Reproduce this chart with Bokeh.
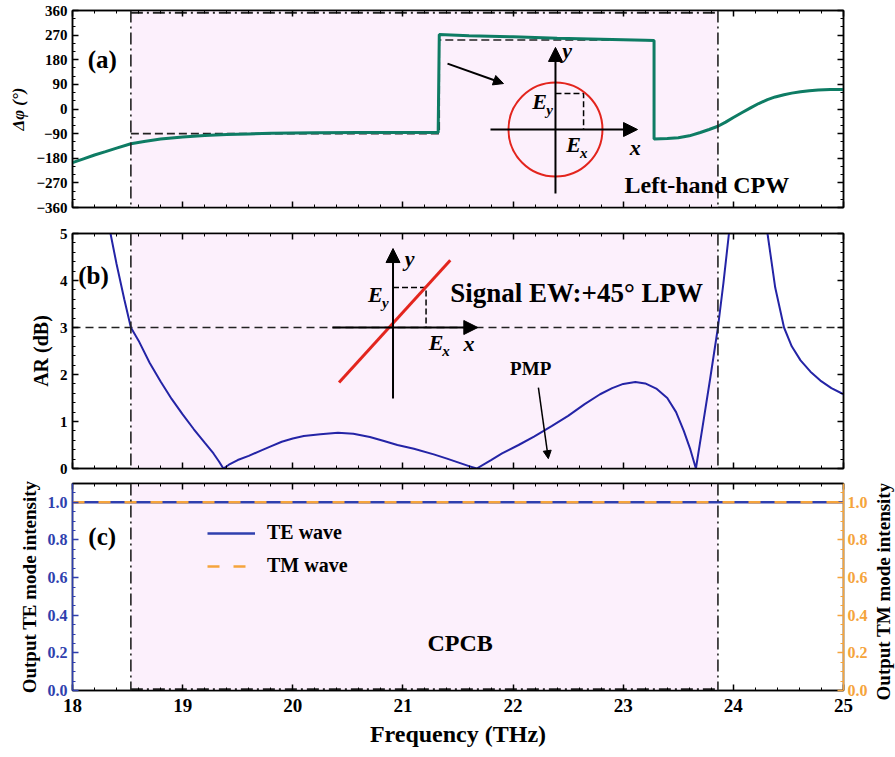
from bokeh.plotting import figure
from bokeh.layouts import column, row
from bokeh.models import (Range1d, LinearAxis, FixedTicker, BoxAnnotation, Span,
                          Arrow, NormalHead, Label, Legend, LegendItem,
                          CustomJSTickFormatter, PrintfTickFormatter)
from bokeh.embed import file_html
from bokeh.resources import INLINE

# ---------------- data ----------------
freq_ticks = [18, 19, 20, 21, 22, 23, 24, 25]
freq_minor = [18.2, 18.4, 18.6, 18.8, 19.2, 19.4, 19.6, 19.8, 20.2, 20.4, 20.6, 20.8,
              21.2, 21.4, 21.6, 21.8, 22.2, 22.4, 22.6, 22.8, 23.2, 23.4, 23.6, 23.8,
              24.2, 24.4, 24.6, 24.8]

phase_freq = [18.00, 18.10, 18.20, 18.30, 18.40, 18.53, 18.65, 18.80, 19.00, 19.20,
              19.40, 19.60, 19.80, 20.00, 20.20, 20.60, 21.00, 21.32, 21.33, 21.60,
              22.00, 22.40, 22.80, 23.20, 23.28, 23.28, 23.40, 23.50, 23.60, 23.70,
              23.78, 23.86, 23.93, 24.00, 24.08, 24.16, 24.23, 24.31, 24.38, 24.46,
              24.53, 24.61, 24.69, 24.77, 24.88, 25.00]
phase_deg = [-196, -182, -168, -156, -143, -127, -119, -110, -102, -97,
             -93, -91, -89, -88, -87, -86, -86, -86, 272, 268,
             264, 259, 255, 251, 250, -110, -108, -105, -98, -86,
             -75, -63, -48, -31, -13, 5, 20, 34, 44, 52,
             58, 63, 67, 69, 71, 71]
ideal_freq = [18.53, 21.33, 21.33, 23.28]
ideal_deg = [-90, -90, 252, 252]
phase_ticks = [-360, -270, -180, -90, 0, 90, 180, 270, 360]
phase_minor = [-330, -300, -240, -210, -150, -120, -60, -30, 30, 60, 120, 150, 210, 240, 300, 330]

ar_freq = [18.30, 18.345, 18.40, 18.47, 18.53, 18.60, 18.70, 18.80, 18.90, 19.00,
           19.10, 19.20, 19.28, 19.33, 19.37, 19.42, 19.50, 19.60, 19.71, 19.80,
           19.90, 20.00, 20.10, 20.25, 20.41, 20.55, 20.70, 20.82, 20.95, 21.10,
           21.28, 21.40, 21.50, 21.60, 21.67, 21.80, 21.90, 22.05, 22.19, 22.35,
           22.50, 22.65, 22.79, 22.90, 23.00, 23.11, 23.20, 23.30, 23.40, 23.48,
           23.55, 23.61, 23.66, 23.72, 23.79, 23.86, 23.91, 23.96, 24.02, 24.12,
           24.22, 24.31, 24.38, 24.46, 24.53, 24.61, 24.70, 24.79, 24.89, 25.00]
ar_db = [5.6, 5.0, 4.35, 3.6, 3.0, 2.72, 2.25, 1.85, 1.48, 1.15,
         0.84, 0.55, 0.32, 0.15, 0.0, 0.08, 0.18, 0.27, 0.38, 0.47,
         0.57, 0.64, 0.69, 0.73, 0.76, 0.74, 0.67, 0.59, 0.50, 0.42,
         0.30, 0.21, 0.13, 0.05, 0.0, 0.18, 0.32, 0.50, 0.68, 0.90,
         1.12, 1.37, 1.58, 1.71, 1.80, 1.84, 1.81, 1.70, 1.50, 1.20,
         0.80, 0.40, 0.0, 0.88, 1.92, 3.0, 3.95, 5.0, 6.2, 7.0,
         6.5, 5.0, 3.85, 3.0, 2.6, 2.3, 2.06, 1.87, 1.71, 1.58]
ar_ticks = [0, 1, 2, 3, 4, 5]
ar_minor = [0.2, 0.4, 0.6, 0.8, 1.2, 1.4, 1.6, 1.8, 2.2, 2.4, 2.6, 2.8,
            3.2, 3.4, 3.6, 3.8, 4.2, 4.4, 4.6, 4.8]
ar_threshold = [3, 3]

out_freq = [18, 19, 20, 21, 22, 23, 24, 25]
te_int = [1.0, 1.0, 1.0, 1.0, 1.0, 1.0, 1.0, 1.0]
tm_int = [1.0, 1.0, 1.0, 1.0, 1.0, 1.0, 1.0, 1.0]
int_ticks = [0.0, 0.2, 0.4, 0.6, 0.8, 1.0]
int_minor = [0.05, 0.1, 0.15, 0.25, 0.3, 0.35, 0.45, 0.5, 0.55, 0.65, 0.7, 0.75,
             0.85, 0.9, 0.95, 1.05]

band = [18.53, 23.86]

# ---------------- style ----------------
SERIF = "Liberation Serif"
TEAL = "#0e7c64"
BLUE = "#2424a6"
BLUE_C = "#2f3fae"
ORANGE = "#f5a43c"
RED = "#e3251e"
PINK = "#fcf0fc"
DK = "#222222"
DASHDOT = "12 4 2 4"

x_range = Range1d(18, 25)
FW = 771


def style_axis(ax, color="black", size="14px", title_size="18px", labels=True):
    ax.major_tick_in = 6
    ax.major_tick_out = 0
    ax.minor_tick_in = 3
    ax.minor_tick_out = 0
    ax.axis_line_width = 1.5
    ax.axis_line_color = color
    ax.major_tick_line_color = color
    ax.minor_tick_line_color = color
    ax.major_tick_line_width = 1.5
    ax.minor_tick_line_width = 1
    ax.major_label_text_font = SERIF
    ax.major_label_text_font_style = "bold"
    ax.major_label_text_font_size = size
    ax.major_label_text_color = color
    ax.axis_label_text_font = SERIF
    ax.axis_label_text_font_style = "bold"
    ax.axis_label_text_font_size = title_size
    ax.axis_label_text_color = "black"
    if not labels:
        ax.formatter = CustomJSTickFormatter(code="return ''")
        ax.major_label_standoff = 0
        ax.axis_label_standoff = 0


def make_fig(frame_h, y_range, top_b, bottom_b, right_b=52):
    p = figure(x_range=x_range, y_range=y_range, frame_width=FW, frame_height=frame_h,
               output_backend="svg", toolbar_location=None,
               min_border_left=72, min_border_right=right_b,
               min_border_top=top_b, min_border_bottom=bottom_b)
    p.xgrid.visible = False
    p.ygrid.visible = False
    p.outline_line_color = "black"
    p.outline_line_width = 1.5
    p.background_fill_color = "white"
    p.add_layout(BoxAnnotation(left=band[0], right=band[1], fill_color=PINK, fill_alpha=1,
                               line_alpha=0, level="underlay"))
    for b in band:
        p.add_layout(Span(location=b, dimension="height", line_color=DK,
                          line_width=1.6, line_dash=DASHDOT))
    p.xaxis.ticker = FixedTicker(ticks=freq_ticks, minor_ticks=freq_minor)
    return p


def mirror(p, side, ticks, minor):
    ax = LinearAxis(ticker=FixedTicker(ticks=ticks, minor_ticks=minor))
    style_axis(ax, labels=False)
    p.add_layout(ax, side)


def lab(p, x, y, text, size, style="bold", align="center", color="black", xo=0, yo=0, angle=0):
    p.add_layout(Label(x=x, y=y, text=text, text_font=SERIF, text_font_style=style,
                       text_font_size=size, text_align=align, text_baseline="middle",
                       text_color=color, x_offset=xo, y_offset=yo,
                       angle=angle, angle_units="deg"))


def arrow(p, x0, y0, x1, y1, size=12, width=2):
    p.add_layout(Arrow(end=NormalHead(size=size, fill_color="black", line_color="black"),
                       x_start=x0, y_start=y0, x_end=x1, y_end=y1,
                       line_color="black", line_width=width))


# ---------------- panel (a) ----------------
pa = make_fig(197, Range1d(-360, 360), 10, 19)
style_axis(pa.xaxis[0], labels=False)
pa.yaxis.ticker = FixedTicker(ticks=phase_ticks, minor_ticks=phase_minor)
style_axis(pa.yaxis[0], size="15px", title_size="17px")
pa.yaxis.axis_label = "Δφ (°)"
pa.yaxis.axis_label_text_font_style = "bold italic"
mirror(pa, "above", freq_ticks, freq_minor)
mirror(pa, "right", phase_ticks, phase_minor)

pa.line([band[0], band[1]], [352, 352], line_color=DK, line_width=2, line_dash=DASHDOT)
pa.line(ideal_freq, ideal_deg, line_color=DK, line_width=1.6, line_dash="8 4")
pa.line(phase_freq, phase_deg, line_color=TEAL, line_width=3)

lab(pa, 18.27, 182, "(a)", "25px")
lab(pa, 23.76, -277, "Left-hand CPW", "24px")
# inset: circular polarisation sketch
arrow(pa, 21.405, 166, 21.913, 93, size=10, width=2)
pa.line([22.385, 22.64, 22.64], [57, 57, -75], line_color="black", line_width=1.5, line_dash="6 3")
arrow(pa, 21.795, -75, 23.13, -75, size=14, width=2)
arrow(pa, 22.385, -309, 22.385, 225, size=14, width=2)
pa.scatter([22.385], [-75], marker="circle", size=94, fill_color=None,
           line_color=RED, line_width=2)
lab(pa, 22.49, 212, "y", "22px", style="bold italic")
lab(pa, 23.11, -141, "x", "22px", style="bold italic")
lab(pa, 22.24, 26, "E", "22px", style="bold italic")
lab(pa, 22.24, 26, "y", "15px", style="bold italic", xo=10, yo=-8)
lab(pa, 22.55, -131, "E", "22px", style="bold italic")
lab(pa, 22.55, -131, "x", "15px", style="bold italic", xo=10, yo=-8)

# ---------------- panel (b) ----------------
pb = make_fig(235, Range1d(0, 5), 7, 8)
style_axis(pb.xaxis[0], labels=False)
pb.yaxis.ticker = FixedTicker(ticks=ar_ticks, minor_ticks=ar_minor)
style_axis(pb.yaxis[0], size="15px", title_size="20px")
pb.yaxis.axis_label = "AR (dB)"
mirror(pb, "above", freq_ticks, freq_minor)
mirror(pb, "right", ar_ticks, ar_minor)

pb.line([18, 25], ar_threshold, line_color=DK, line_width=1.6, line_dash="8 5")
pb.line(ar_freq, ar_db, line_color=BLUE, line_width=2)

lab(pb, 18.19, 4.1, "(b)", "25px")
lab(pb, 21.43, 3.74, "Signal EW:+45° LPW", "27px", align="left")
lab(pb, 22.16, 2.13, "PMP", "19px")
arrow(pb, 22.23, 1.72, 22.32, 0.21, size=8, width=1.5)
# inset: linear polarisation sketch
pb.line([20.91, 21.21, 21.21], [3.85, 3.85, 3.0], line_color="black", line_width=1.5, line_dash="6 3")
arrow(pb, 20.36, 3.0, 21.68, 3.0, size=14, width=2)
arrow(pb, 20.91, 1.49, 20.91, 4.68, size=14, width=2)
pb.line([20.42, 21.43], [1.83, 4.43], line_color=RED, line_width=3)
lab(pb, 21.06, 4.47, "y", "22px", style="bold italic")
lab(pb, 21.60, 2.66, "x", "22px", style="bold italic")
lab(pb, 20.75, 3.70, "E", "22px", style="bold italic")
lab(pb, 20.75, 3.70, "y", "15px", style="bold italic", xo=10, yo=-8)
lab(pb, 21.30, 2.68, "E", "22px", style="bold italic")
lab(pb, 21.30, 2.68, "x", "15px", style="bold italic", xo=10, yo=-8)

# ---------------- panel (c) ----------------
pc = make_fig(207, Range1d(0, 1.1), 7, 60, right_b=28)
pc.extra_y_ranges = {"tm": Range1d(0, 1.1)}
style_axis(pc.xaxis[0], size="19px", title_size="24px")
pc.xaxis.axis_label = "Frequency (THz)"
pc.xaxis.major_label_standoff = 8
pc.xaxis.axis_label_standoff = 6
pc.yaxis.ticker = FixedTicker(ticks=int_ticks, minor_ticks=int_minor)
pc.yaxis.formatter = PrintfTickFormatter(format="%.1f")
style_axis(pc.yaxis[0], color=BLUE_C, size="16px", title_size="19px")
pc.yaxis.axis_label = "Output TE mode intensity"
mirror(pc, "above", freq_ticks, freq_minor)
rax = LinearAxis(y_range_name="tm", ticker=FixedTicker(ticks=int_ticks, minor_ticks=int_minor),
                 formatter=PrintfTickFormatter(format="%.1f"))
style_axis(rax, color=ORANGE, size="16px", title_size="19px")
rax.major_label_standoff = 4
pc.add_layout(rax, "right")

pc.line([band[0], band[1]], [0.006, 0.006], line_color=DK, line_width=2, line_dash=DASHDOT)
te_r = pc.line(out_freq, te_int, line_color=BLUE_C, line_width=2.5)
tm_r = pc.line(out_freq, tm_int, line_color=ORANGE, line_width=2.5, line_dash="12 14",
               y_range_name="tm")
legend = Legend(items=[LegendItem(label="TE wave", renderers=[te_r]),
                       LegendItem(label="TM wave", renderers=[tm_r])],
                location=(130, 108), background_fill_alpha=0, border_line_alpha=0,
                label_text_font=SERIF, label_text_font_style="bold", label_text_font_size="20px",
                label_text_color="black",
                glyph_width=48, glyph_height=20, label_height=20, spacing=10, padding=5,
                margin=0, label_standoff=12)
pc.add_layout(legend)

lab(pc, 18.27, 0.82, "(c)", "25px")
lab(pc, 21.52, 0.25, "CPCB", "24px")

# right-hand axis title (reads bottom-to-top, as in the original)
side = figure(x_range=Range1d(0, 1), y_range=Range1d(0, 1), frame_width=24, frame_height=274,
              output_backend="svg", toolbar_location=None,
              min_border_left=0, min_border_right=0, min_border_top=0, min_border_bottom=0,
              x_axis_location=None, y_axis_location=None)
side.xgrid.visible = False
side.ygrid.visible = False
side.outline_line_color = None
lab(side, 0.5, 0.606, "Output TM mode intensity", "19px", angle=90)

layout = column(pa, pb, row(pc, side, spacing=0), spacing=0)
open("out.html", "w").write(file_html(layout, INLINE))
